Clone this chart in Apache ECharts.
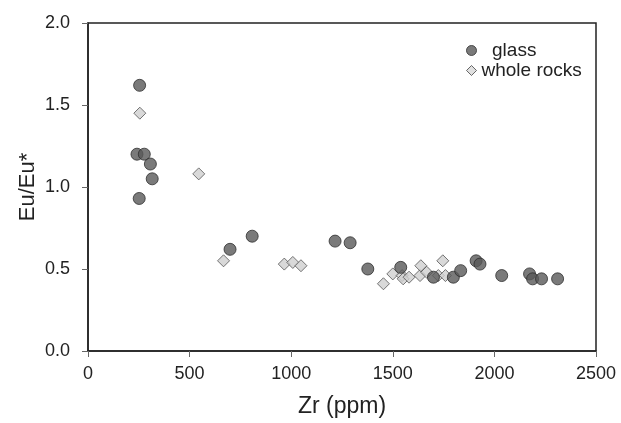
<!DOCTYPE html>
<html>
<head>
<meta charset="utf-8">
<script src="https://cdn.jsdelivr.net/npm/echarts@6/dist/echarts.min.js"></script>
<style>
  html, body { margin: 0; padding: 0; background: #fff; }
  #container { width: 621px; height: 423px; }
</style>
</head>
<body>
<div id="container"></div>
<script type="text/javascript">
// Zr (ppm) vs Eu/Eu*
var glassZr = [254, 241, 277, 307, 316, 252, 699, 808, 1216, 1290, 1377, 1539, 1700, 1798, 1834, 1910, 1929, 2036, 2173, 2188, 2232, 2311];
var glassEu = [1.62, 1.20, 1.20, 1.14, 1.05, 0.93, 0.62, 0.70, 0.67, 0.66, 0.50, 0.51, 0.45, 0.45, 0.49, 0.55, 0.53, 0.46, 0.47, 0.44, 0.44, 0.44];

var rockZr = [255, 545, 667, 966, 1008, 1048, 1454, 1500, 1546, 1551, 1580, 1634, 1638, 1667, 1724, 1746, 1759];
var rockEu = [1.45, 1.08, 0.55, 0.53, 0.54, 0.52, 0.41, 0.47, 0.46, 0.44, 0.45, 0.46, 0.52, 0.48, 0.46, 0.55, 0.46];

var xTicks = [0, 500, 1000, 1500, 2000, 2500];
var yTicks = ['0.0', '0.5', '1.0', '1.5', '2.0'];

function pairs(xs, ys) {
    var out = [];
    for (var i = 0; i < xs.length; i++) out.push([xs[i], ys[i]]);
    return out;
}

var dom = document.getElementById("container");
var myChart = echarts.init(dom, null, { renderer: 'canvas' });
var font = 'Liberation Sans, Arial, sans-serif';

var option = {
    animation: false,
    backgroundColor: '#fff',
    textStyle: { fontFamily: font },
    grid: {
        left: 88, right: 25, top: 23, bottom: 72,
        show: true, borderColor: '#222', borderWidth: 1.5
    },
    legend: {
        left: 461, top: 36,
        orient: 'vertical',
        itemWidth: 10, itemHeight: 10, itemGap: 1,
        textStyle: { fontSize: 19, lineHeight: 19, color: '#222', fontFamily: font },
        formatter: function (name) { return name === 'glass' ? '  glass' : name; },
        data: [
            { name: 'glass', itemStyle: { color: '#595959', borderColor: '#2e2e2e', borderWidth: 1 } },
            { name: 'whole rocks', itemStyle: { color: '#d8d8d8', borderColor: '#444', borderWidth: 1 } }
        ]
    },
    xAxis: {
        type: 'value',
        min: 0, max: 2500, interval: 500,
        name: 'Zr (ppm)',
        nameLocation: 'middle',
        nameGap: 44,
        nameMoveOverlap: false,
        nameTextStyle: { fontSize: 23, color: '#222', fontFamily: font },
        axisLine: { show: true, lineStyle: { color: '#222', width: 1.5 } },
        axisTick: { show: true, inside: false, length: 6, lineStyle: { color: '#666' } },
        axisLabel: { fontSize: 18, color: '#222', margin: 14,
            formatter: function (v) { return xTicks.indexOf(v) >= 0 ? String(v) : ''; } },
        splitLine: { show: false }
    },
    yAxis: {
        type: 'value',
        min: 0, max: 2, interval: 0.5,
        name: 'Eu/Eu*',
        nameLocation: 'middle',
        nameGap: 49,
        nameMoveOverlap: false,
        nameTextStyle: { fontSize: 22, color: '#222', fontFamily: font },
        axisLine: { show: true, lineStyle: { color: '#222', width: 1.5 } },
        axisTick: { show: true, inside: false, length: 6, lineStyle: { color: '#666' } },
        axisLabel: { fontSize: 18, color: '#222', margin: 18,
            formatter: function (v) { return yTicks[Math.round(v * 2)]; } },
        splitLine: { show: false }
    },
    series: [
        {
            name: 'glass',
            type: 'scatter',
            symbol: 'circle',
            symbolSize: 12,
            data: pairs(glassZr, glassEu),
            itemStyle: { color: '#595959', borderColor: '#2e2e2e', borderWidth: 1 },
            z: 3
        },
        {
            name: 'whole rocks',
            type: 'scatter',
            symbol: 'diamond',
            symbolSize: 12,
            data: pairs(rockZr, rockEu),
            itemStyle: { color: '#cfcfcf', borderColor: '#555', borderWidth: 1 },
            z: 2
        }
    ]
};

if (option && typeof option === "object") {
    myChart.setOption(option, true);
}
</script>
</body>
</html>
